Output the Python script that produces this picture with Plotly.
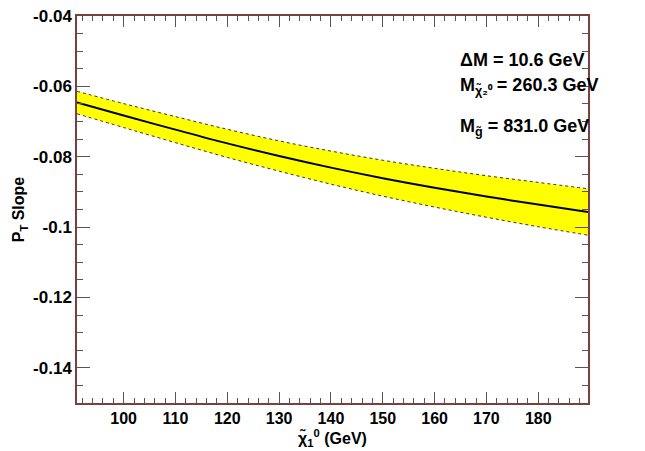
import plotly.graph_objects as go

# Data
mass_chi1 = [91, 100, 110, 120, 130, 140, 150, 160, 170, 180, 189.6]
slope_center = [-0.0646, -0.0683, -0.0723, -0.0762, -0.0798, -0.0831, -0.0861, -0.0888, -0.0913, -0.0936, -0.0957]
slope_upper = [-0.0614, -0.0649, -0.0686, -0.0722, -0.0755, -0.0784, -0.0810, -0.0833, -0.0854, -0.0873, -0.0891]
slope_lower = [-0.0678, -0.0717, -0.0760, -0.0802, -0.0841, -0.0878, -0.0912, -0.0943, -0.0972, -0.0999, -0.1023]

y_tickvals = [-0.04, -0.06, -0.08, -0.1, -0.12, -0.14]
y_ticktext = ["-0.04", "-0.06", "-0.08", "-0.1", "-0.12", "-0.14"]
x_tickvals = [100, 110, 120, 130, 140, 150, 160, 170, 180]

info_lines = [
    "ΔM = 10.6 GeV",
    "M<sub>χ̃₂⁰</sub> = 260.3 GeV",
    "M<sub>g̃</sub> = 831.0 GeV",
]

FONT = "Liberation Sans, Arial, sans-serif"
AXIS_COLOR = "#7a4040"
TICK_COLOR = "#555555"

fig = go.Figure()
fig.add_trace(go.Scatter(x=mass_chi1, y=slope_lower, mode="lines",
                         line=dict(color="#333333", width=1, dash="dot", shape="spline"),
                         showlegend=False, hoverinfo="skip"))
fig.add_trace(go.Scatter(x=mass_chi1, y=slope_upper, mode="lines",
                         line=dict(color="#333333", width=1, dash="dot", shape="spline"),
                         fill="tonexty", fillcolor="#ffff00",
                         showlegend=False, hoverinfo="skip"))
fig.add_trace(go.Scatter(x=mass_chi1, y=slope_center, mode="lines",
                         line=dict(color="black", width=2, shape="spline"),
                         showlegend=False))

ys = [0.886, 0.817, 0.711]
for txt, yy in zip(info_lines, ys):
    fig.add_annotation(text="<b>" + txt + "</b>", xref="paper", yref="paper",
                       x=0.746, y=yy, xanchor="left", yanchor="middle",
                       showarrow=False, font=dict(family=FONT, size=18, color="black"))

fig.update_layout(
    width=637, height=443,
    margin=dict(l=69, r=57, t=8, b=48, autoexpand=False),
    paper_bgcolor="white", plot_bgcolor="white",
    font=dict(family=FONT, color="black"),
    xaxis=dict(
        range=[91, 189.6], tickvals=x_tickvals, ticks="inside", ticklen=11,
        tickcolor=TICK_COLOR, showline=True, linecolor=AXIS_COLOR, linewidth=1.5,
        mirror="ticks", showgrid=False, zeroline=False, automargin=False,
        ticklabeloverflow="allow",
        tickfont=dict(family=FONT, size=16, color="black", weight="bold"),
        minor=dict(dtick=2, ticks="inside", ticklen=5, tickcolor=TICK_COLOR),
        title=dict(text="<b>χ̃<sub>1</sub><sup>0</sup> (GeV)</b>", standoff=2,
                   font=dict(family=FONT, size=16, color="black")),
    ),
    yaxis=dict(
        range=[-0.15, -0.04], tickvals=y_tickvals, ticktext=y_ticktext,
        ticks="inside", ticklen=13, tickcolor=TICK_COLOR,
        showline=True, linecolor=AXIS_COLOR, linewidth=1.5,
        mirror="ticks", showgrid=False, zeroline=False, automargin=False,
        ticklabeloverflow="allow",
        tickfont=dict(family=FONT, size=17, color="black", weight="bold"),
        minor=dict(dtick=0.005, tick0=-0.04, ticks="inside", ticklen=6, tickcolor=TICK_COLOR),
        title=dict(text="<b>P<sub>T</sub> Slope</b>", standoff=4,
                   font=dict(family=FONT, size=16, color="black")),
    ),
)

fig.write_html("out.html")
